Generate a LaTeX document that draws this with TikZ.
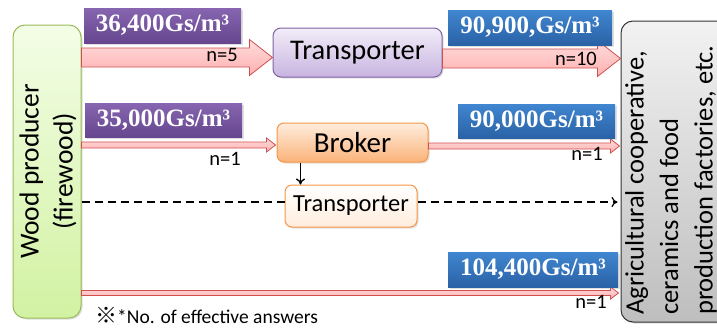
\documentclass[tikz,border=0pt]{standalone}
\usepackage{fontspec}
\setmainfont{Carlito}
\newfontfamily\labfont{Liberation Serif}
\newfontfamily\cjkfont{Noto Sans CJK JP}
\usetikzlibrary{calc,arrows.meta,shadows}
\definecolor{purT}{HTML}{8765B0}
\definecolor{purB}{HTML}{66468F}
\definecolor{bluT}{HTML}{4086D0}
\definecolor{bluB}{HTML}{2A62A6}
\definecolor{pinkT}{HTML}{FFDCDC}
\definecolor{pinkB}{HTML}{FFB0B0}
\definecolor{arrred}{HTML}{D05050}
\definecolor{grnT}{HTML}{F3FDE6}
\definecolor{grnB}{HTML}{D2F2A2}
\definecolor{grnD}{HTML}{9BBB59}
\definecolor{lavT}{HTML}{F2EDF9}
\definecolor{lavB}{HTML}{C8B4E0}
\definecolor{lavD}{HTML}{8064A2}
\definecolor{orT}{HTML}{FFEDDD}
\definecolor{orB}{HTML}{FBB37A}
\definecolor{orD}{HTML}{F79646}
\definecolor{grT}{HTML}{F2F2F2}
\definecolor{grB}{HTML}{BEBEBE}
\tikzset{
  boxshadow/.style={drop shadow={opacity=0.25,shadow xshift=1.5pt,shadow yshift=-1.5pt}},
  pricelab/.style={rectangle, draw=none, text=white, inner sep=1pt,
    font=\labfont\bfseries\fontsize{25}{28}\selectfont, minimum height=35,
    boxshadow},
  purplelab/.style={pricelab, top color=purT, bottom color=purB},
  bluelab/.style={pricelab, top color=bluT, bottom color=bluB},
  blockarrow/.style={draw=arrred, line width=0.8pt, top color=pinkT, bottom color=pinkB, line join=miter},
  nlab/.style={inner sep=0pt, anchor=base east, font=\fontsize{20.5}{24}\selectfont},
  dashline/.style={black, line width=1.2pt, dash pattern=on 8pt off 5pt},
  endbox/.style={rectangle, rounded corners=12pt, line width=1pt, boxshadow},
}
\newcommand{\blockarr}[5]{%
  \draw[blockarrow] ($(#1)+(0,-#3)$) -- ($(#2)+(-#5,-#3)$) -- ($(#2)+(-#5,-#4)$) -- (#2)
    -- ($(#2)+(-#5,#4)$) -- ($(#2)+(-#5,#3)$) -- ($(#1)+(0,#3)$) -- cycle;}
\begin{document}
\begin{tikzpicture}[x=1pt,y=-1pt]
\useasboundingbox (0,0) rectangle (717,327);
\clip (0,0) rectangle (717,327);
% end boxes
\node[endbox, draw=grnD, top color=grnT, bottom color=grnB, minimum width=68, minimum height=293] (wood) at (47,171.5) {};
\node[rotate=90, align=center, font=\fontsize{27.5}{34}\selectfont, inner sep=0pt] (woodtext) at ($(wood.center)+(1,0)$) {Wood producer\\(firewood)};
\node[endbox, draw=black!80, top color=grT, bottom color=grB, minimum width=130, minimum height=301] (rbox) at (686,171.5) {};
\node[rotate=90, anchor=north west, align=left, inner sep=0pt, font=\fontsize{26.5}{34.5}\selectfont] (rtext) at (625,315)
  {Agricultural cooperative,\\ceramics and food\\production factories, etc.};
% middle boxes
\node[rectangle, rounded corners=8pt, draw=lavD, line width=1pt, top color=lavT, bottom color=lavB, boxshadow,
  minimum width=169, minimum height=49, font=\fontsize{28.5}{32}\selectfont] (t1) at (357.5,52.5) {Transporter};
\node[rectangle, rounded corners=7pt, draw=orD, line width=1pt, top color=orT, bottom color=orB, boxshadow,
  minimum width=151, minimum height=39, font=\fontsize{29}{32}\selectfont] (broker) at (352.5,142.5) {Broker};
\node[rectangle, rounded corners=7pt, draw=orD, line width=1pt, top color=white, bottom color=orT, boxshadow,
  minimum width=132, minimum height=42, font=\fontsize{24.5}{28}\selectfont] (t2) at (351,206) {Transporter};
% row 1 arrows
\coordinate (a1t) at ($(t1.west)+(0,5)$);
\coordinate (a1s) at (wood.east |- a1t);
\blockarr{a1s}{a1t}{9.5}{18}{23}
\coordinate (a2s) at ($(t1.east)+(0,6)$);
\coordinate (a2t) at (rbox.west |- a2s);
\blockarr{a2s}{a2t}{9.5}{18}{23}
% row 2 arrows
\coordinate (b1t) at ($(broker.west)+(-1,2.5)$);
\coordinate (b1s) at (wood.east |- b1t);
\blockarr{b1s}{b1t}{3}{7}{9}
\coordinate (b2s) at ($(broker.east)+(0,3.5)$);
\coordinate (b2t) at ($(rbox.west |- b2s)+(-1,0)$);
\blockarr{b2s}{b2t}{3}{7}{9}
% row 4 arrow
\coordinate (c1s) at ($(wood.east)+(0,121.5)$);
\coordinate (c1t) at ($(rbox.west |- c1s)+(-2,0)$);
\blockarr{c1s}{c1t}{2.5}{6}{8}
% broker -> transporter 2
\coordinate (bs) at ($(broker.south west)+(24,0)$);
\draw[line width=1.4pt, -{To[length=6pt,width=9pt]}] (bs) -- (bs |- t2.north);
% dashed line
\coordinate (d1) at ($(t2.west)+(0,-4)$);
\draw[dashline] (wood.east |- d1) -- (t2.west |- d1);
\draw[dashline, -{To[length=6pt,width=10pt]}] (t2.east |- d1) -- ($(rbox.west |- d1)+(-3,0)$);
% price labels
\node[purplelab, minimum width=157] (p1) at (162.5,25.5) {36,400Gs/m³};
\node[purplelab, minimum width=157, minimum height=34] (p2) at (163.5,120) {35,000Gs/m³};
\node[bluelab, minimum width=164] (p3) at (530,27.5) {90,900,Gs/m³};
\node[bluelab, minimum width=157, minimum height=34] (p4) at (536.5,121) {90,000Gs/m³};
\node[bluelab, minimum width=170] (p5) at (533,269.5) {104,400Gs/m³};
% n labels
\node[nlab] (n1) at (238,61) {n=5};
\node[nlab] (n2) at (597,65) {n=10};
\node[nlab] (n3) at (241,165) {n=1};
\node[nlab] (n4) at (603,160) {n=1};
\node[nlab] (n5) at (607,308) {n=1};
% footnote
\node[anchor=base west, inner sep=0pt, font=\fontsize{19.5}{22}\selectfont] (foot) at (95,323) {{\cjkfont\fontsize{22}{22}\selectfont ※}*No. of effective answers};
\end{tikzpicture}
\end{document}
